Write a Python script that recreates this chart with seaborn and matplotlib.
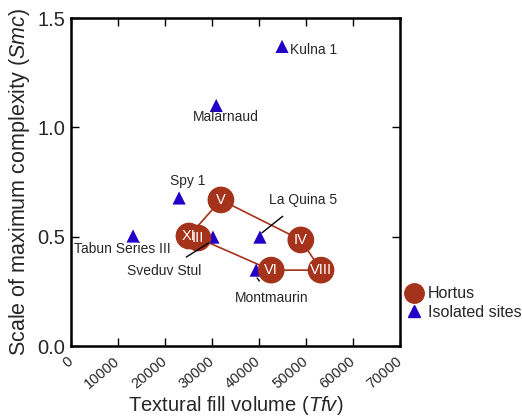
import matplotlib
matplotlib.use("Agg")
import matplotlib.pyplot as plt
from matplotlib.lines import Line2D
import seaborn as sns
import pandas as pd

# ---- data ----
hortus_labels = ["III", "VI", "VIII", "IV", "V", "XI"]
hortus_tfv = [27000, 42600, 53200, 48900, 31900, 25100]
hortus_smc = [0.494, 0.347, 0.347, 0.485, 0.668, 0.503]

site_names = ["Kulna 1", "Malarnaud", "Spy 1", "Tabun Series III",
              "Sveduv Stul", "La Quina 5", "Montmaurin"]
site_tfv = [44900, 30900, 23000, 13200, 30200, 40200, 39400]
site_smc = [1.37, 1.10, 0.677, 0.503, 0.498, 0.498, 0.347]

x_ticks = [0, 10000, 20000, 30000, 40000, 50000, 60000, 70000]
y_ticks = [0.0, 0.5, 1.0, 1.5]

sns.set_style("ticks")
plt.rcParams["font.family"] = ["Liberation Sans", "DejaVu Sans"]
plt.rcParams["mathtext.fontset"] = "custom"
plt.rcParams["mathtext.it"] = "Liberation Sans:italic"
plt.rcParams["mathtext.rm"] = "Liberation Sans"

brown = "#a5321b"
blue = "#2200c8"

fig = plt.figure(figsize=(5.22, 4.18), dpi=100)
ax = fig.add_axes([71/522, 1 - 346/418, (400-71)/522, (346-18)/418])

hdf = pd.DataFrame({"tfv": hortus_tfv, "smc": hortus_smc, "lab": hortus_labels})
sdf = pd.DataFrame({"tfv": site_tfv, "smc": site_smc, "name": site_names})

# polygon lines through Hortus levels
sns.lineplot(data=hdf, x="tfv", y="smc", sort=False, estimator=None,
             color=brown, linewidth=1.2, ax=ax, zorder=1)
sns.scatterplot(data=sdf, x="tfv", y="smc", marker="^", s=90, color=blue,
                edgecolor="none", ax=ax, zorder=2)
sns.scatterplot(data=hdf, x="tfv", y="smc", marker="o", s=370, color=brown,
                edgecolor="none", ax=ax, zorder=3)
for lab, xv, yv in zip(hortus_labels, hortus_tfv, hortus_smc):
    ax.text(xv, yv, lab, color="white", fontsize=10.5, ha="center", va="center", zorder=4)

# site labels (positions relative to the plot)
fs = 10
ax.text(46600, 1.354, "Kulna 1", fontsize=fs, ha="left", va="center")
ax.text(33000, 1.047, "Malarnaud", fontsize=fs, ha="center", va="center")
ax.text(24900, 0.755, "Spy 1", fontsize=fs, ha="center", va="center")
ax.text(10900, 0.444, "Tabun Series III", fontsize=fs, ha="center", va="center")
ax.annotate("Sveduv Stul", xy=(29800, 0.478), xytext=(19800, 0.343), fontsize=fs,
            ha="center", va="center",
            arrowprops=dict(arrowstyle="-", color="black", lw=1, shrinkA=5, shrinkB=2))
ax.annotate("La Quina 5", xy=(40600, 0.517), xytext=(49400, 0.668), fontsize=fs,
            ha="center", va="center",
            arrowprops=dict(arrowstyle="-", color="black", lw=1, shrinkA=7, shrinkB=0))
ax.annotate("Montmaurin", xy=(39600, 0.311), xytext=(42800, 0.22), fontsize=fs,
            ha="center", va="center",
            arrowprops=dict(arrowstyle="-", color="black", lw=1, shrinkA=6, shrinkB=0))

ax.set_xlim(0, 70000)
ax.set_ylim(0, 1.5)
ax.set_xticks(x_ticks)
ax.set_xticklabels([str(t) for t in x_ticks], rotation=40, ha="right", va="center",
                   rotation_mode="anchor", fontsize=10.5)
ax.set_yticks(y_ticks)
ax.set_yticklabels([f"{t:.1f}" for t in y_ticks], fontsize=14.5)
ax.tick_params(direction="in", length=6, width=1, top=True, right=True, color="black")
ax.tick_params(axis="x", pad=10)
ax.tick_params(axis="y", pad=4)
for sp in ax.spines.values():
    sp.set_linewidth(1.8)
    sp.set_color("black")
ax.set_xlabel(r"Textural fill volume ($\it{Tfv}$)", fontsize=14.5, labelpad=2)
ax.set_ylabel(r"Scale of maximum complexity ($\it{Smc}$)", fontsize=15.5, labelpad=4)

handles = [Line2D([], [], marker="o", linestyle="none", color=brown, markersize=14),
           Line2D([], [], marker="^", linestyle="none", color=blue, markersize=8.5)]
fig.legend(handles, ["Hortus", "Isolated sites"], loc="upper left",
           bbox_to_anchor=(398/522, 1 - 280/418), frameon=False, fontsize=11.5,
           handletextpad=0.25, labelspacing=0.2, borderaxespad=0, handlelength=1.2)

fig.savefig("out.png", dpi=100)
